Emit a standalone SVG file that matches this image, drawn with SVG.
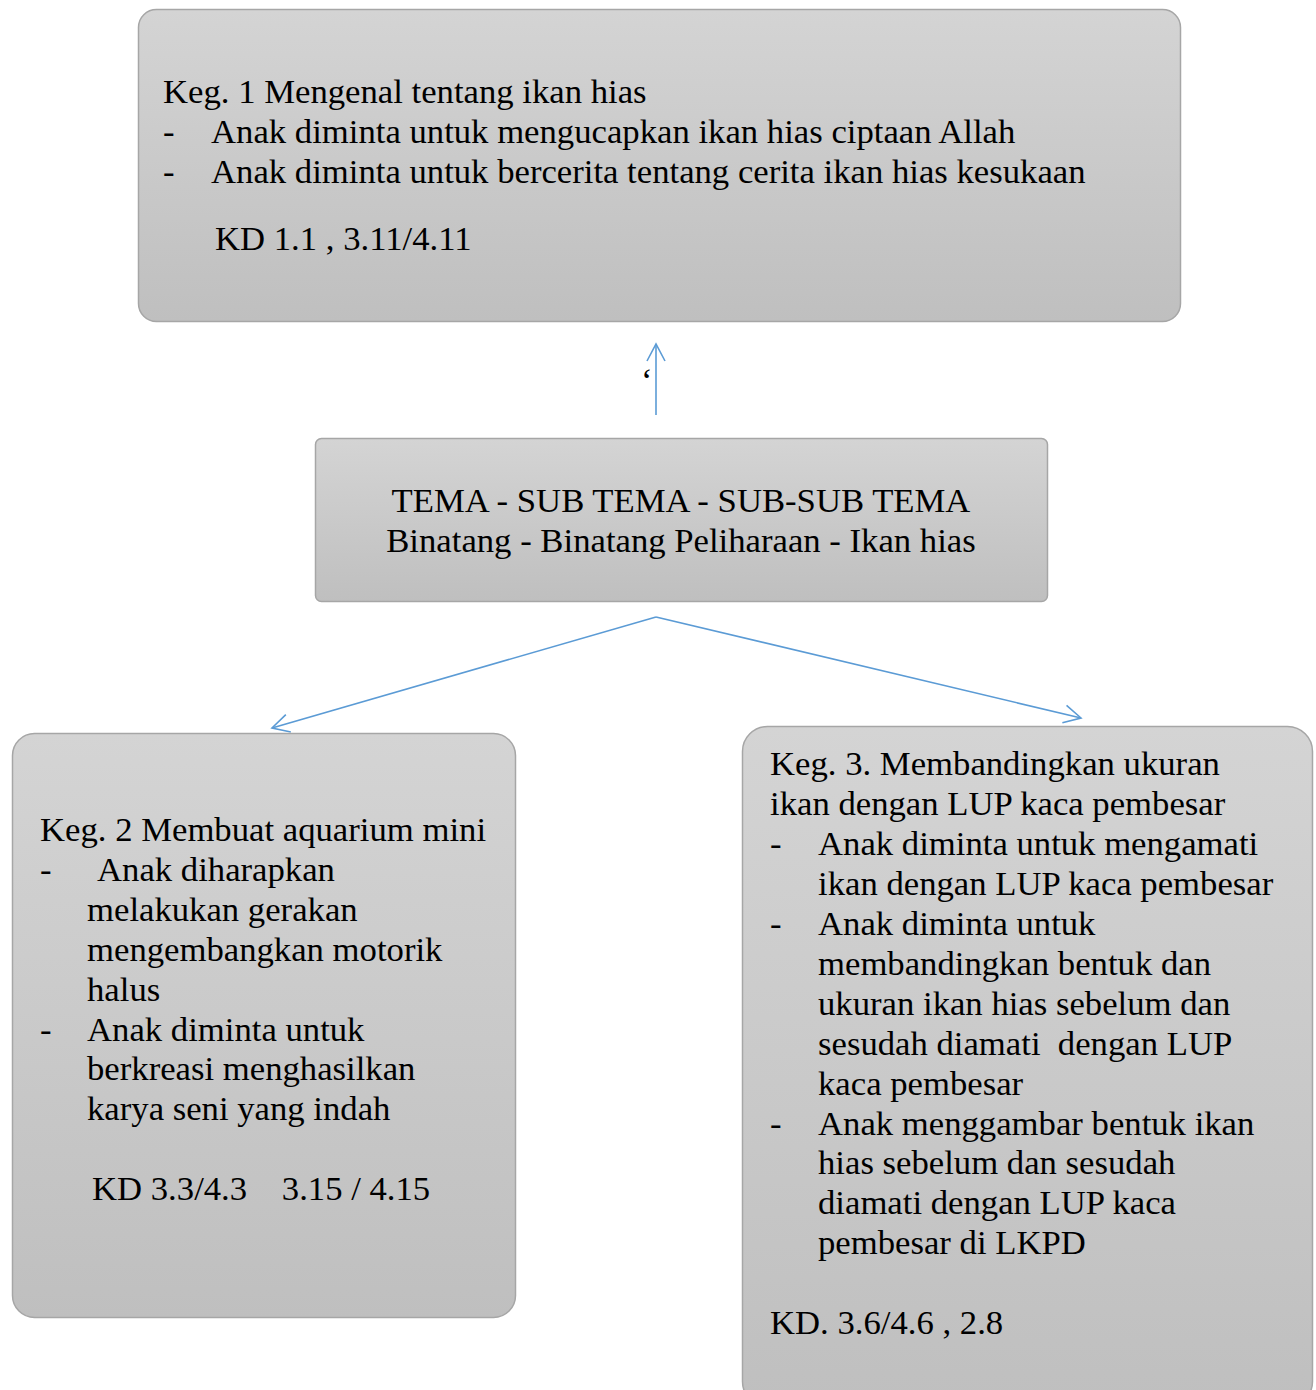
<svg xmlns="http://www.w3.org/2000/svg" width="1316" height="1390" viewBox="0 0 1316 1390">
<style>
.box{stroke:#a6a6a6;stroke-width:1.5;fill:url(#g)}
text{font-family:"Liberation Serif","Times New Roman",serif;font-size:34.7px;fill:#000;white-space:pre}
.c{text-anchor:middle}
.conn{stroke:#5b9bd5;stroke-width:1.6;fill:none}
</style>
<defs>
<linearGradient id="g" x1="0" y1="0" x2="0" y2="1">
<stop offset="0" stop-color="#d4d4d4"/>
<stop offset="1" stop-color="#bfbfbf"/>
</linearGradient>
<marker id="a" viewBox="0 0 20 20" refX="18" refY="10" markerWidth="20" markerHeight="20" markerUnits="userSpaceOnUse" orient="auto">
<path d="M1,1 L18,10 L1,19" fill="none" stroke="#5b9bd5" stroke-width="1.6"/>
</marker>
</defs>
<g id="connectors">
<line class="conn" x1="656" y1="415" x2="656" y2="344" marker-end="url(#a)"/>
<polyline class="conn" points="656,617 272,728" marker-end="url(#a)"/>
<polyline class="conn" points="656,617 1081,718" marker-end="url(#a)"/>
</g>
<text x="641" y="392">‘</text>
<g id="keg1">
<rect class="box" x="138.5" y="9.5" width="1042" height="312" rx="18"/>
<text x="163" y="103">Keg. 1 Mengenal tentang ikan hias</text>
<text x="163" y="143">-</text><text x="211" y="143">Anak diminta untuk mengucapkan ikan hias ciptaan Allah</text>
<text x="163" y="183">-</text><text x="211" y="183">Anak diminta untuk bercerita tentang cerita ikan hias kesukaan</text>
<text x="215" y="250">KD 1.1 , 3.11/4.11</text>
</g>
<g id="tema">
<rect class="box" x="315.5" y="438.5" width="732" height="163" rx="6"/>
<text class="c" x="681" y="512">TEMA - SUB TEMA - SUB-SUB TEMA</text>
<text class="c" x="681" y="552">Binatang - Binatang Peliharaan - Ikan hias</text>
</g>
<g id="keg2">
<rect class="box" x="12.5" y="733.5" width="503" height="584" rx="22"/>
<text x="40" y="841">Keg. 2 Membuat aquarium mini</text>
<text x="40" y="881">-</text><text x="97" y="881">Anak diharapkan</text>
<text x="87" y="921">melakukan gerakan</text>
<text x="87" y="961">mengembangkan motorik</text>
<text x="87" y="1001">halus</text>
<text x="40" y="1041">-</text><text x="87" y="1041">Anak diminta untuk</text>
<text x="87" y="1080">berkreasi menghasilkan</text>
<text x="87" y="1120">karya seni yang indah</text>
<text x="92" y="1200">KD 3.3/4.3    3.15 / 4.15</text>
</g>
<g id="keg3">
<rect class="box" x="742.5" y="726.5" width="570" height="680" rx="25"/>
<text x="770" y="775">Keg. 3. Membandingkan ukuran</text>
<text x="770" y="815">ikan dengan LUP kaca pembesar</text>
<text x="770" y="855">-</text><text x="818" y="855">Anak diminta untuk mengamati</text>
<text x="818" y="895">ikan dengan LUP kaca pembesar</text>
<text x="770" y="935">-</text><text x="818" y="935">Anak diminta untuk</text>
<text x="818" y="975">membandingkan bentuk dan</text>
<text x="818" y="1015">ukuran ikan hias sebelum dan</text>
<text x="818" y="1055">sesudah diamati  dengan LUP</text>
<text x="818" y="1095">kaca pembesar</text>
<text x="770" y="1135">-</text><text x="818" y="1135">Anak menggambar bentuk ikan</text>
<text x="818" y="1174">hias sebelum dan sesudah</text>
<text x="818" y="1214">diamati dengan LUP kaca</text>
<text x="818" y="1254">pembesar di LKPD</text>
<text x="770" y="1334">KD. 3.6/4.6 , 2.8</text>
</g>
</svg>
